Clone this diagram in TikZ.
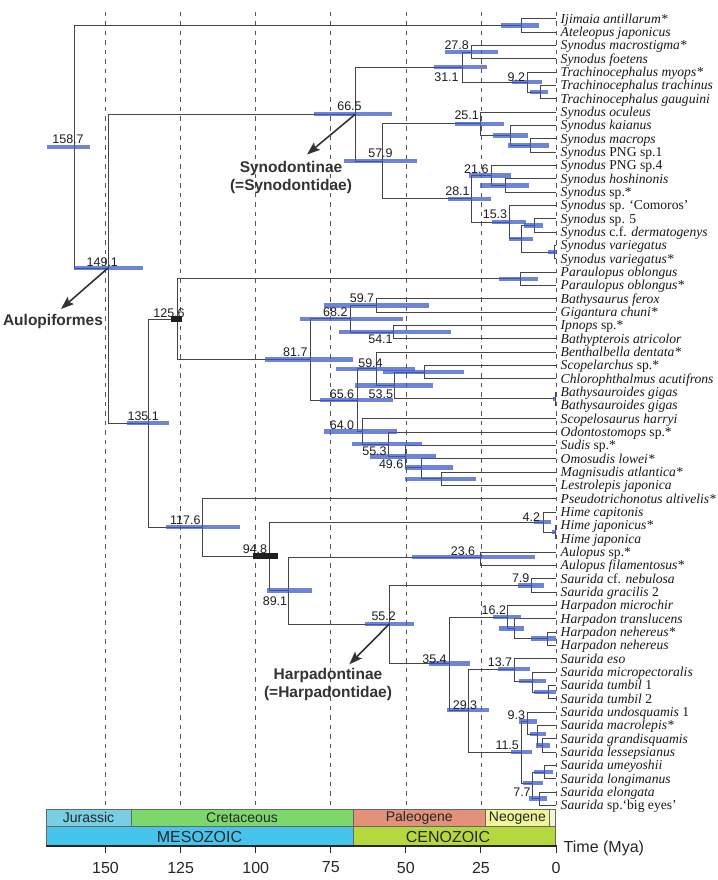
\documentclass[tikz,border=0pt]{standalone}
\usepackage{fontspec}
\setmainfont{Liberation Serif}
\setsansfont{Liberation Sans}
\usetikzlibrary{arrows.meta}
\definecolor{treegray}{HTML}{454545}
\definecolor{barblue}{RGB}{60,90,205}
\definecolor{dashgray}{HTML}{555555}
\definecolor{jur}{RGB}{120,206,226}
\definecolor{cre}{RGB}{124,216,106}
\definecolor{pal}{RGB}{226,146,122}
\definecolor{neo}{RGB}{240,246,152}
\definecolor{qua}{RGB}{244,247,205}
\definecolor{mes}{RGB}{70,196,236}
\definecolor{cen}{RGB}{181,216,62}
\definecolor{grpgray}{HTML}{333333}
\newcommand{\agebar}[3]{\fill[bar] ({#1},{#3-2.2}) rectangle ({#2},{#3+2.2});}
\begin{document}
\begin{tikzpicture}[x=1pt,y=-1pt,
  br/.style={draw=treegray,line width=0.85pt},
  bar/.style={fill=barblue,fill opacity=0.74},
  calbar/.style={fill=black!88},
  age/.style={font=\fontsize{12.5}{14}\sffamily,text=black!88,inner sep=0pt},
  tip/.style={font=\fontsize{13.6}{15}\selectfont,text=black!90,anchor=base west,inner sep=0pt,xshift=4.5pt,yshift=-4.4pt},
  grp/.style={font=\fontsize{15.5}{18.4}\sffamily\bfseries,text=grpgray,align=center,inner sep=0pt},
  grparrow/.style={draw=grpgray,line width=1.6pt,-{Stealth[length=13pt,width=9.5pt,inset=2.5pt]}},
  epoch/.style={font=\fontsize{14}{16}\sffamily,text=black!85,inner sep=0pt},
  era/.style={font=\fontsize{16}{18}\sffamily,text=black!85,inner sep=0pt},
  ticklab/.style={font=\fontsize{16}{18}\sffamily,text=black!85,inner sep=0pt},
  gridline/.style={draw=dashgray,line width=0.6pt,dash pattern=on 4.5pt off 5pt},
  geo/.style={draw=black!60,line width=0.6pt}
]
\useasboundingbox (0,0) rectangle (717,880);
\fill[white] (0,0) rectangle (717,880);

% grid lines
\foreach \t in {150,125,100,75,50,25,0}
  \draw[gridline] ({556-3.003*\t},12) -- ({556-3.003*\t},809);

% tips
\foreach \i in {0,...,59}
  \coordinate (t\i) at (556,{18.8+13.33*\i});

% internal nodes
\coordinate (Nroot) at (74,147);
\coordinate (Nij) at (521.7,25.5);
\coordinate (N149) at (108,268);
\coordinate (N665) at (355.3,114.2);
\coordinate (N311) at (462,67.1);
\coordinate (N278) at (471.7,52.1);
\coordinate (N92) at (527.7,82.1);
\coordinate (Ntr) at (540,92.1);
\coordinate (N579) at (382,161.2);
\coordinate (N251) at (480,123.8);
\coordinate (Nkai) at (510.7,135.4);
\coordinate (Nmac) at (530,145.4);
\coordinate (N281) at (471,198.7);
\coordinate (N216) at (491,175.4);
\coordinate (Nhos) at (505.7,185.4);
\coordinate (N153) at (509.3,222);
\coordinate (Nsub) at (521,238.7);
\coordinate (Nsp5) at (534.3,225.4);
\coordinate (Nvar) at (554.3,252.1);
\coordinate (N135) at (148.7,423);
\coordinate (N1256) at (177.7,319);
\coordinate (Npar) at (520,278.7);
\coordinate (N817) at (310.3,359.4);
\coordinate (N682) at (350.7,318.7);
\coordinate (N597) at (376,305.4);
\coordinate (N541) at (393.3,332.1);
\coordinate (N656) at (357.7,400.1);
\coordinate (N594) at (376.7,368.7);
\coordinate (N535) at (394,385.3);
\coordinate (Nscop) at (424,372);
\coordinate (Ngig) at (555,398.7);
\coordinate (N640) at (362.3,431.5);
\coordinate (N553) at (388.3,444.2);
\coordinate (N496) at (405.7,456.4);
\coordinate (NX) at (421,467.5);
\coordinate (Nmag) at (441.7,478.7);
\coordinate (N1176) at (202.3,527);
\coordinate (N948) at (269,556);
\coordinate (NHime) at (543.3,522);
\coordinate (Nhp) at (555,532);
\coordinate (N891) at (288.3,590.5);
\coordinate (Naul) at (480,557);
\coordinate (N552) at (389.3,624);
\coordinate (N79) at (531.7,585.3);
\coordinate (N354) at (449,663.5);
\coordinate (N162) at (507.7,617);
\coordinate (Ntrans) at (514.3,628.6);
\coordinate (Nneh) at (547.7,638.6);
\coordinate (N293) at (468.3,710);
\coordinate (N137) at (514.3,669);
\coordinate (Nmic) at (532.7,681);
\coordinate (Ntum) at (548.3,692);
\coordinate (N115) at (521.7,752);
\coordinate (N93) at (527.7,721.5);
\coordinate (Nmacr) at (537.3,734);
\coordinate (Ngra) at (542.3,745.3);
\coordinate (NY) at (532.3,783);
\coordinate (Numey) at (544.3,772);
\coordinate (N77) at (539,798.6);

% branches
\foreach \p/\c in {Nroot/Nij, Nroot/N149, Nij/t0, Nij/t1,
  N149/N665, N149/N135, N665/N311, N665/N579, N311/N278, N311/N92,
  N278/t2, N278/t3, N92/t4, N92/Ntr, Ntr/t5, Ntr/t6,
  N579/N251, N579/N281, N251/t7, N251/Nkai, Nkai/t8, Nkai/Nmac,
  Nmac/t9, Nmac/t10, N281/N216, N281/N153, N216/t11, N216/Nhos,
  Nhos/t12, Nhos/t13, N153/t14, N153/Nsub, Nsub/Nsp5, Nsub/Nvar,
  Nsp5/t15, Nsp5/t16, Nvar/t17, Nvar/t18,
  N135/N1256, N135/N1176, N1256/Npar, N1256/N817, Npar/t19, Npar/t20,
  N817/N682, N817/N656, N682/N597, N682/N541, N597/t21, N597/t22,
  N541/t23, N541/t24, N656/N594, N656/N640, N594/t25, N594/N535,
  N535/Nscop, N535/Ngig, Nscop/t26, Nscop/t27, Ngig/t28, Ngig/t29,
  N640/t30, N640/N553, N553/t31, N553/N496, N496/t32, N496/NX,
  NX/t33, NX/Nmag, Nmag/t34, Nmag/t35,
  N1176/t36, N1176/N948, N948/NHime, N948/N891, NHime/t37, NHime/Nhp,
  Nhp/t38, Nhp/t39, N891/Naul, N891/N552, Naul/t40, Naul/t41,
  N552/N79, N552/N354, N79/t42, N79/t43, N354/N162, N354/N293,
  N162/t44, N162/Ntrans, Ntrans/t45, Ntrans/Nneh, Nneh/t46, Nneh/t47,
  N293/N137, N293/N115, N137/t48, N137/Nmic, Nmic/t49, Nmic/Ntum,
  Ntum/t50, Ntum/t51, N115/N93, N115/NY, N93/t52, N93/Nmacr,
  Nmacr/t53, Nmacr/Ngra, Ngra/t54, Ngra/t55, NY/Numey, NY/N77,
  Numey/t56, Numey/t57, N77/t58, N77/t59}
  \draw[br] (\p) |- (\c);

% age bars
\agebar{501}{539}{25.5}
\agebar{445}{498}{52.1}
\agebar{434}{487}{67.1}
\agebar{511.7}{541.7}{82.1}
\agebar{530}{548}{92.1}
\agebar{455}{504}{123.8}
\agebar{493}{528}{135.4}
\agebar{508}{549}{145.4}
\agebar{314.3}{392}{114.2}
\agebar{344.3}{417.3}{161.2}
\agebar{469}{511}{175.4}
\agebar{480}{529}{185.4}
\agebar{448}{491}{198.7}
\agebar{491.7}{525.7}{222}
\agebar{509.3}{532.7}{238.7}
\agebar{524.3}{543.3}{225.4}
\agebar{548.3}{555.5}{252.1}
\agebar{47.3}{90}{147}
\agebar{74}{143}{268}
\agebar{499}{537.7}{278.7}
\agebar{127}{169}{423}
\agebar{265}{353.3}{359.4}
\agebar{300}{402.7}{318.7}
\agebar{324.3}{429}{305.4}
\agebar{339}{450.7}{332.1}
\agebar{320}{393}{400.1}
\agebar{336}{415}{368.7}
\agebar{383}{464}{372}
\agebar{355}{433}{385.3}
\agebar{552.5}{556}{398.7}
\agebar{324.3}{396.7}{431.5}
\agebar{351.7}{421.7}{444.2}
\agebar{370}{436}{456.4}
\agebar{405}{452.7}{467.5}
\agebar{405}{475.7}{478.7}
\agebar{165.7}{240}{527}
\agebar{534}{550.7}{522}
\agebar{551.5}{556}{532}
\agebar{411.7}{535}{557}
\agebar{266.7}{311.7}{590.5}
\agebar{365}{414}{624}
\agebar{518.3}{544}{585.3}
\agebar{429}{470}{663.5}
\agebar{493.3}{520.7}{617}
\agebar{499.3}{524}{628.6}
\agebar{530.7}{555.7}{638.6}
\agebar{498.3}{530}{669}
\agebar{519}{545.7}{681}
\agebar{534}{556}{692}
\agebar{447.3}{489}{710}
\agebar{510.7}{531.7}{752}
\agebar{519.3}{536.7}{721.5}
\agebar{530}{545.7}{734}
\agebar{536}{550}{745.3}
\agebar{522.7}{542.7}{783}
\agebar{534}{552.7}{772}
\agebar{529.3}{546.7}{798.6}
% calibration bars
\fill[calbar] (171,316.3) rectangle (182,321.8);
\fill[calbar] (253,553) rectangle (277.7,559);

% age labels
\node[age] (a1587) at (68,139.5) {158.7};
\node[age] (a1491) at (102.3,261.7) {149.1};
\node[age] (a665) at (349.5,106.5) {66.5};
\node[age] (a579) at (380.5,153) {57.9};
\node[age] (a311) at (446.5,77) {31.1};
\node[age] (a278) at (456.7,45.5) {27.8};
\node[age] (a92) at (516.3,76.7) {9.2};
\node[age] (a251) at (466.7,115) {25.1};
\node[age] (a216) at (476.3,168.7) {21.6};
\node[age] (a281) at (457.5,191.3) {28.1};
\node[age] (a153) at (495,214.3) {15.3};
\node[age] (a1256) at (169,312.7) {125.6};
\node[age] (a597) at (362,297.7) {59.7};
\node[age] (a682) at (335.3,312) {68.2};
\node[age] (a541) at (380.5,339.7) {54.1};
\node[age] (a817) at (295.3,352.5) {81.7};
\node[age] (a594) at (370.5,362.8) {59.4};
\node[age] (a656) at (342,393.8) {65.6};
\node[age] (a535) at (380.8,393.8) {53.5};
\node[age] (a640) at (342,424.7) {64.0};
\node[age] (a553) at (374.5,451.3) {55.3};
\node[age] (a496) at (391.2,464.2) {49.6};
\node[age] (a1351) at (143.2,415.8) {135.1};
\node[age] (a1176) at (185.3,519.7) {117.6};
\node[age] (a948) at (255,549.2) {94.8};
\node[age] (a42) at (531.3,517.2) {4.2};
\node[age] (a236) at (463,550.8) {23.6};
\node[age] (a891) at (275,601.3) {89.1};
\node[age] (a79) at (520.7,578.3) {7.9};
\node[age] (a552) at (383.7,616.3) {55.2};
\node[age] (a162) at (493.8,610) {16.2};
\node[age] (a354) at (434.5,658.7) {35.4};
\node[age] (a137) at (500,662.5) {13.7};
\node[age] (a293) at (465,705) {29.3};
\node[age] (a93) at (516.3,715.3) {9.3};
\node[age] (a115) at (507.2,745) {11.5};
\node[age] (a77) at (522,792.3) {7.7};

% tip labels
\node[tip] (L0) at (t0) {\textit{Ijimaia antillarum*}};
\node[tip] (L1) at (t1) {\textit{Ateleopus japonicus}};
\node[tip] (L2) at (t2) {\textit{Synodus macrostigma*}};
\node[tip] (L3) at (t3) {\textit{Synodus foetens}};
\node[tip] (L4) at (t4) {\textit{Trachinocephalus myops*}};
\node[tip] (L5) at (t5) {\textit{Trachinocephalus trachinus}};
\node[tip] (L6) at (t6) {\textit{Trachinocephalus gauguini}};
\node[tip] (L7) at (t7) {\textit{Synodus oculeus}};
\node[tip] (L8) at (t8) {\textit{Synodus kaianus}};
\node[tip] (L9) at (t9) {\textit{Synodus macrops}};
\node[tip] (L10) at (t10) {\textit{Synodus} PNG sp.1};
\node[tip] (L11) at (t11) {\textit{Synodus} PNG sp.4};
\node[tip] (L12) at (t12) {\textit{Synodus hoshinonis}};
\node[tip] (L13) at (t13) {\textit{Synodus} sp.*};
\node[tip] (L14) at (t14) {\textit{Synodus} sp. `Comoros'};
\node[tip] (L15) at (t15) {\textit{Synodus} sp. 5};
\node[tip] (L16) at (t16) {\textit{Synodus} c.f. \textit{dermatogenys}};
\node[tip] (L17) at (t17) {\textit{Synodus variegatus}};
\node[tip] (L18) at (t18) {\textit{Synodus variegatus*}};
\node[tip] (L19) at (t19) {\textit{Paraulopus oblongus}};
\node[tip] (L20) at (t20) {\textit{Paraulopus oblongus*}};
\node[tip] (L21) at (t21) {\textit{Bathysaurus ferox}};
\node[tip] (L22) at (t22) {\textit{Gigantura chuni*}};
\node[tip] (L23) at (t23) {\textit{Ipnops} sp.*};
\node[tip] (L24) at (t24) {\textit{Bathypterois atricolor}};
\node[tip] (L25) at (t25) {\textit{Benthalbella dentata*}};
\node[tip] (L26) at (t26) {\textit{Scopelarchus} sp.*};
\node[tip] (L27) at (t27) {\textit{Chlorophthalmus acutifrons}};
\node[tip] (L28) at (t28) {\textit{Bathysauroides gigas}};
\node[tip] (L29) at (t29) {\textit{Bathysauroides gigas}};
\node[tip] (L30) at (t30) {\textit{Scopelosaurus harryi}};
\node[tip] (L31) at (t31) {\textit{Odontostomops} sp.*};
\node[tip] (L32) at (t32) {\textit{Sudis} sp.*};
\node[tip] (L33) at (t33) {\textit{Omosudis lowei*}};
\node[tip] (L34) at (t34) {\textit{Magnisudis atlantica*}};
\node[tip] (L35) at (t35) {\textit{Lestrolepis japonica}};
\node[tip] (L36) at (t36) {\textit{Pseudotrichonotus altivelis*}};
\node[tip] (L37) at (t37) {\textit{Hime capitonis}};
\node[tip] (L38) at (t38) {\textit{Hime japonicus*}};
\node[tip] (L39) at (t39) {\textit{Hime japonica}};
\node[tip] (L40) at (t40) {\textit{Aulopus} sp.*};
\node[tip] (L41) at (t41) {\textit{Aulopus filamentosus*}};
\node[tip] (L42) at (t42) {\textit{Saurida} cf. \textit{nebulosa}};
\node[tip] (L43) at (t43) {\textit{Saurida gracilis} 2};
\node[tip] (L44) at (t44) {\textit{Harpadon microchir}};
\node[tip] (L45) at (t45) {\textit{Harpadon translucens}};
\node[tip] (L46) at (t46) {\textit{Harpadon nehereus*}};
\node[tip] (L47) at (t47) {\textit{Harpadon nehereus}};
\node[tip] (L48) at (t48) {\textit{Saurida eso}};
\node[tip] (L49) at (t49) {\textit{Saurida micropectoralis}};
\node[tip] (L50) at (t50) {\textit{Saurida tumbil} 1};
\node[tip] (L51) at (t51) {\textit{Saurida tumbil} 2};
\node[tip] (L52) at (t52) {\textit{Saurida undosquamis} 1};
\node[tip] (L53) at (t53) {\textit{Saurida macrolepis*}};
\node[tip] (L54) at (t54) {\textit{Saurida grandisquamis}};
\node[tip] (L55) at (t55) {\textit{Saurida lessepsianus}};
\node[tip] (L56) at (t56) {\textit{Saurida umeyoshii}};
\node[tip] (L57) at (t57) {\textit{Saurida longimanus}};
\node[tip] (L58) at (t58) {\textit{Saurida elongata}};
\node[tip] (L59) at (t59) {\textit{Saurida} sp.`big eyes'};

% group labels and arrows
\node[grp] (synlab) at (291,177.5) {Synodontinae\\(=Synodontidae)};
\node[grp] (aullab) at (53,321) {Aulopiformes};
\node[grp] (harplab) at (328,684.5) {Harpadontinae\\(=Harpadontidae)};
\coordinate (synarr) at (307,154.5);
\coordinate (aularr) at (61,309);
\coordinate (harparr) at (349.3,664.3);
\draw[grparrow] (N665) -- (synarr);
\draw[grparrow] (N149) -- (aularr);
\draw[grparrow] (N552) -- (harparr);

% geologic time scale
\filldraw[geo,fill=jur] (46,809) rectangle (131,826);
\filldraw[geo,fill=cre] (131,809) rectangle (353,826);
\filldraw[geo,fill=pal] (353,809) rectangle (485.7,826);
\filldraw[geo,fill=neo] (485.7,809) rectangle (549,826);
\filldraw[geo,fill=qua] (549,809) rectangle (555.7,826);
\filldraw[geo,fill=mes] (46,826) rectangle (353,846);
\filldraw[geo,fill=cen] (353,826) rectangle (555.7,846);
\draw[line width=2pt,black!85] (46,846) -- (556.7,846);
\node[epoch] (jurlab) at (88.5,817.8) {Jurassic};
\node[epoch] (crelab) at (242,817.8) {Cretaceous};
\node[epoch] (pallab) at (419.3,817.8) {Paleogene};
\node[epoch] (neolab) at (517.4,817.8) {Neogene};
\node[era] (meslab) at (199.5,836.5) {MESOZOIC};
\node[era] (cenlab) at (448,836.5) {CENOZOIC};
\foreach \t in {150,125,100,75,50,25,0}{
  \draw[line width=0.9pt,black!85] ({556-3.003*\t},846) -- ({556-3.003*\t},852.5);
  \node[ticklab] (tk\t) at ({556-3.003*\t},867.5) {\t};
}
\node[ticklab,anchor=west] (timelab) at (563.5,848) {Time (Mya)};
\end{tikzpicture}
\end{document}
